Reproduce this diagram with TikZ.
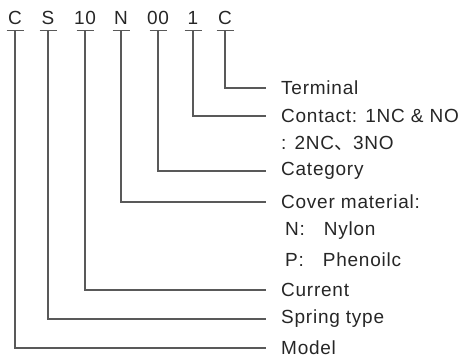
\documentclass[tikz,border=0pt]{standalone}
\usepackage{fontspec}
\setmainfont[LetterSpace=4]{Liberation Sans}
\newfontfamily\cjk{Noto Sans CJK SC}

\begin{document}
\begin{tikzpicture}[x=1pt,y=-1pt,
  code/.style={font=\fontsize{19}{21}\selectfont,text=black!85,
    inner xsep=0pt,inner ysep=5.5pt,text height=13.5pt,text depth=0pt},
  desc/.style={anchor=west,font=\fontsize{19}{21}\selectfont,text=black!85,
    inner xsep=15pt,inner ysep=0pt},
  link/.style={draw=black!65,line width=1.3pt}]
  \useasboundingbox (0,0) rectangle (464,358);
  % code letters
  \node[code] (cmod)  at (15,18)  {C};
  \node[code] (cspr)  at (48,18)  {S};
  \node[code] (ccur)  at (85,18)  {10};
  \node[code] (ccov)  at (121,18) {N};
  \node[code] (ccat)  at (158,18) {00};
  \node[code] (ccon)  at (193,18) {1};
  \node[code] (cterm) at (225,18) {C};
  % meanings
  \node[desc] (term) at (266,88)  {Terminal};
  \node[desc] (con)  at (266,116) {Contact: 1NC \& NO};
  \node[desc] (con2) at (266,143) {: 2NC{\cjk 、}3NO};
  \node[desc] (cat)  at (266,171) {Category};
  \node[desc] (cov)  at (266,202) {Cover material:};
  \node[desc] (nyl)  at (270,231) {N:\quad Nylon};
  \node[desc] (phe)  at (270,260) {P:\quad Phenoilc};
  \node[desc] (cur)  at (266,290) {Current};
  \node[desc] (spr)  at (266,319) {Spring type};
  \node[desc] (mod)  at (266,348) {Model};
  % underlines and leaders
  \foreach \c/\d in {cmod/mod,cspr/spr,ccur/cur,ccov/cov,ccat/cat,ccon/con,cterm/term}{
    \draw[link] ([xshift=-8.5pt]\c.south) -- ([xshift=8.5pt]\c.south);
    \draw[link] (\c.south) |- (\d.west);
  }
\end{tikzpicture}
\end{document}
